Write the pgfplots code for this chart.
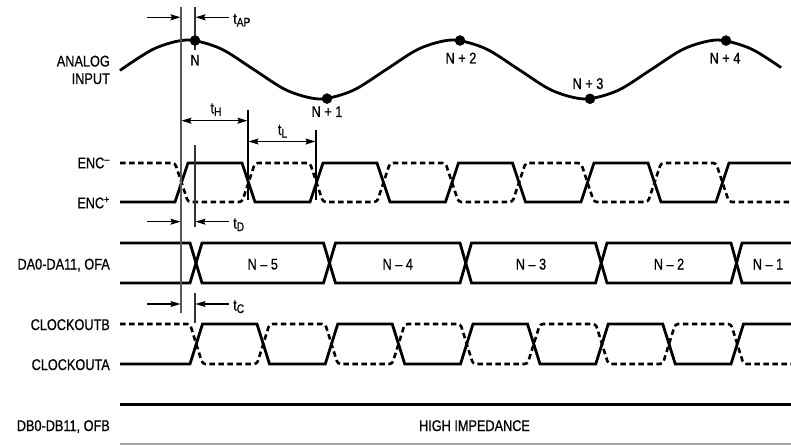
\documentclass[border=0pt]{standalone}
\usepackage{pgfplots}
\pgfplotsset{compat=1.18}
\usepackage{fontspec}
\setmainfont{Liberation Sans}[FakeStretch=0.82, FakeBold=0.6]
\usetikzlibrary{arrows.meta}
\newcommand\tsub[1]{\raisebox{-2.5bp}{\fontsize{12.5bp}{12bp}\selectfont #1}}
\tikzset{
  lbl/.style={anchor=base east, inner sep=0pt, font=\fontsize{15.5bp}{18bp}\selectfont},
  ctr/.style={anchor=base, inner sep=0pt, font=\fontsize{15.5bp}{18bp}\selectfont},
  lft/.style={anchor=base west, inner sep=0pt, font=\fontsize{15.5bp}{18bp}\selectfont},
  arr/.style={black, line width=1.1bp},
}
\begin{document}
\begin{tikzpicture}
\begin{axis}[
  scale only axis, width=791bp, height=445bp,
  xmin=0, xmax=791, ymin=0, ymax=445, y dir=reverse,
  hide axis,
]
% analog input
\addplot[black, line width=2.8bp, smooth] coordinates {
(120,70.4) (154.375,48.64) (187.5,40) (220.625,48.64) (253.75,69.5) (286.875,90.36) (320,99) (353.125,90.36) (386.25,69.5) (419.375,48.64) (452.5,40) (485.625,48.64) (518.75,69.5) (551.875,90.36) (585,99) (618.125,90.36) (651.25,69.5) (684.375,48.64) (717.5,40) (750.625,48.64) (781,67.6)};
\addplot[only marks, mark=*, mark size=5bp, black] coordinates {
(195,40.5) (327,98.6) (460,40.5) (590,98.8) (726,40.6)};
% ENC
\addplot[black, line width=2.8bp] coordinates {
(120,202) (175,202) (188,163) (242,163) (255,202) (310,202) (323,163) (377,163) (390,202) (445.5,202) (458.5,163) (512.5,163) (525.5,202) (581,202) (594,163) (648,163) (661,202) (716,202) (729,163) (791,163)};
\addplot[black, line width=2.6bp, dash pattern=on 5.5bp off 3.5bp, rounded corners=3bp] coordinates {
(120,163) (175,163) (188,202) (242,202) (255,163) (310,163) (323,202) (377,202) (390,163) (445.5,163) (458.5,202) (512.5,202) (525.5,163) (581,163) (594,202) (648,202) (661,163) (716,163) (729,202) (791,202)};
% DA bus
\addplot[black, line width=2.8bp] coordinates {
(120,243) (190,243) (202,283) (323.5,283) (335.5,243) (460,243) (471.5,283) (595.5,283) (607,243) (731,243) (742,283) (791,283)};
\addplot[black, line width=2.8bp] coordinates {
(120,283) (190,283) (202,243) (323.5,243) (335.5,283) (460,283) (471.5,243) (595.5,243) (607,283) (731,283) (742,243) (791,243)};
% CLOCKOUT
\addplot[black, line width=2.8bp] coordinates {
(120,364) (190,364) (202.5,324) (257,324) (269.5,364) (325.25,364) (337.75,324) (392.25,324) (404.75,364) (460.5,364) (473,324) (527.5,324) (540,364) (595.75,364) (608.25,324) (662.75,324) (675.25,364) (731,364) (743.5,324) (791,324)};
\addplot[black, line width=2.6bp, dash pattern=on 5.5bp off 3.5bp, rounded corners=3bp] coordinates {
(120,324) (190,324) (202.5,364) (257,364) (269.5,324) (325.25,324) (337.75,364) (392.25,364) (404.75,324) (460.5,324) (473,364) (527.5,364) (540,324) (595.75,324) (608.25,364) (662.75,364) (675.25,324) (731,324) (743.5,364) (791,364)};
% DB bus
\addplot[black, line width=2.8bp] coordinates {(120,404.3) (791,404.3)};
\addplot[black!35, line width=1.6bp] coordinates {(120,444) (791,444)};
% reference lines
\addplot[black!65, line width=1.2bp] coordinates {(181,7) (181,313)};
\addplot[black!80, line width=1.1bp] coordinates {(195,7) (195,50)};
\addplot[black!80, line width=1.1bp] coordinates {(195,145) (195,227)};
\addplot[black!80, line width=1.1bp] coordinates {(195,293) (195,323)};
\addplot[black, line width=1.1bp] coordinates {(248,110) (248,200)};
\addplot[black, line width=1.1bp] coordinates {(316,130) (316,200)};
% arrows
\addplot[arr, -{Stealth[length=10bp,width=6bp,inset=1.5bp]}] coordinates {(147,17.3) (180.5,17.3)};
\addplot[arr, -{Stealth[length=10bp,width=6bp,inset=1.5bp]}] coordinates {(229,17.3) (195.5,17.3)};
\addplot[arr, -{Stealth[length=10bp,width=6bp,inset=1.5bp]}] coordinates {(147,221.7) (180.5,221.7)};
\addplot[arr, -{Stealth[length=10bp,width=6bp,inset=1.5bp]}] coordinates {(229,221.7) (195.5,221.7)};
\addplot[arr, -{Stealth[length=10bp,width=6bp,inset=1.5bp]}] coordinates {(147,304) (180.5,304)};
\addplot[arr, -{Stealth[length=10bp,width=6bp,inset=1.5bp]}] coordinates {(229,304) (195.5,304)};
\addplot[arr, {Stealth[length=10bp,width=6bp,inset=1.5bp]}-{Stealth[length=10bp,width=6bp,inset=1.5bp]}] coordinates {(181.5,120.7) (247.5,120.7)};
\addplot[arr, {Stealth[length=10bp,width=6bp,inset=1.5bp]}-{Stealth[length=10bp,width=6bp,inset=1.5bp]}] coordinates {(248.5,141.5) (315.5,141.5)};
% left labels
\node[lbl] at (axis cs:110,66.5) {ANALOG};
\node[lbl] at (axis cs:110,84) {INPUT};
\node[lbl] at (axis cs:110,168.3) {ENC\textsuperscript{–}};
\node[lbl] at (axis cs:110,208.3) {ENC\textsuperscript{+}};
\node[lbl] at (axis cs:110,269.5) {DA0-DA11, OFA};
\node[lbl] at (axis cs:110,330) {CLOCKOUTB};
\node[lbl] at (axis cs:110,370) {CLOCKOUTA};
\node[lbl] at (axis cs:110,431) {DB0-DB11, OFB};
% sample labels
\node[ctr] at (axis cs:195,65.5) {N};
\node[ctr] at (axis cs:327,117) {N + 1};
\node[ctr] at (axis cs:461,63.5) {N + 2};
\node[ctr] at (axis cs:588,89) {N + 3};
\node[ctr] at (axis cs:725,63.5) {N + 4};
% bus labels
\node[ctr] at (axis cs:262.75,269.5) {N – 5};
\node[ctr] at (axis cs:397.75,269.5) {N – 4};
\node[ctr] at (axis cs:531,269.5) {N – 3};
\node[ctr] at (axis cs:669,269.5) {N – 2};
\node[ctr] at (axis cs:768,269.5) {N – 1};
\node[ctr] at (axis cs:474.5,431) {HIGH IMPEDANCE};
% timing labels
\node[lft] at (axis cs:233,24) {t\tsub{AP}};
\node[lft] at (axis cs:233,228.5) {t\tsub{D}};
\node[lft] at (axis cs:233,310.5) {t\tsub{C}};
\node[ctr] at (axis cs:216,113.5) {t\tsub{H}};
\node[ctr] at (axis cs:282.5,135) {t\tsub{L}};
\end{axis}
\pgfresetboundingbox
\path (current axis.south west) rectangle (current axis.north east);
\end{tikzpicture}
\end{document}
